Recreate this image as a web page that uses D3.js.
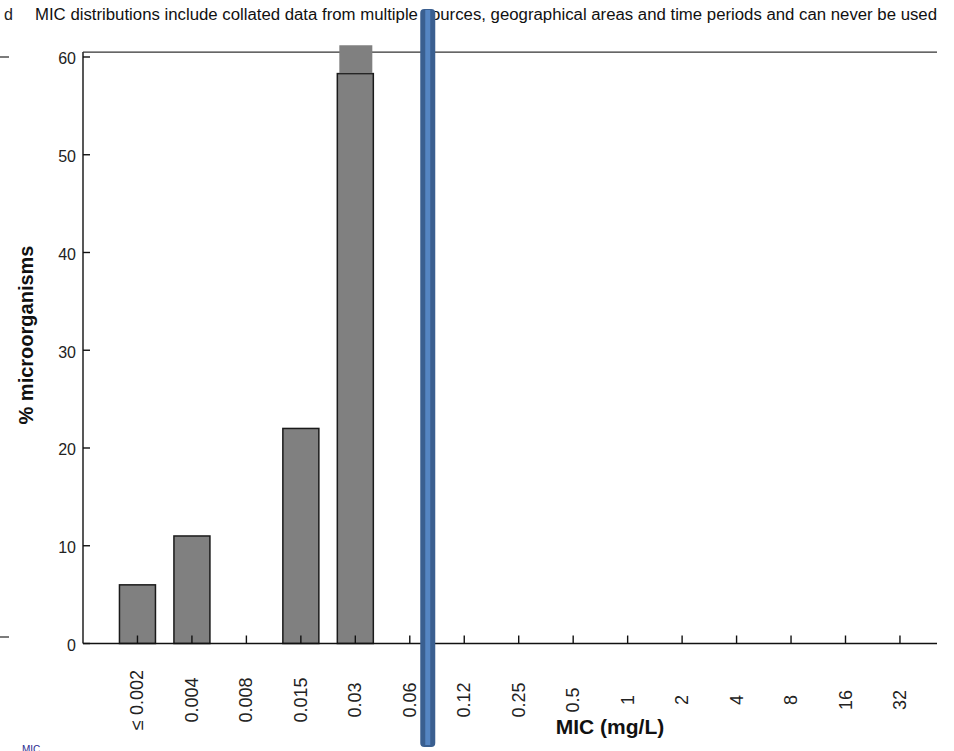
<!DOCTYPE html>
<html>
<head>
<meta charset="utf-8">
<script src="https://cdn.jsdelivr.net/npm/d3@7"></script>
<style>
  html, body { margin: 0; padding: 0; background: #fff; }
  svg { display: block; }
  text { font-family: "Liberation Sans", Arial, sans-serif; }
</style>
</head>
<body>
<svg id="chart" width="954" height="751"></svg>
<script>
// MIC classes (mg/L) and percentage of microorganisms in each class
const micLabels = ["≤ 0.002", "0.004", "0.008", "0.015", "0.03", "0.06", "0.12",
                   "0.25", "0.5", "1", "2", "4", "8", "16", "32"];
const percentValues = [6, 11, 0, 22, 58.3, 0, 0, 0, 0, 0, 0, 0, 0, 0, 0];
// the 0.03 class runs past the top of the frame; its overflow is drawn as a cap
const overflowValues = [0, 0, 0, 0, 61.2, 0, 0, 0, 0, 0, 0, 0, 0, 0, 0];
const yTicks = [0, 10, 20, 30, 40, 50, 60];
const yMax = 60.5;
// epidemiological cut-off marker, in class-index units
const cutoffIndex = 5.33;

const titleText = "MIC distributions include collated data from multiple sources, geographical areas and time periods and can never be used";
const yTitle = "% microorganisms";
const xTitle = "MIC (mg/L)";

const svg = d3.select("#chart");

const plotLeft = 83, plotRight = 937, plotBottom = 643.5;

const x = d3.scaleLinear().domain([-1, 14.68]).range([plotLeft, plotRight]);
const y = d3.scaleLinear().domain([0, yMax]).range([plotBottom, 52.1]);
const plotTop = y(yMax);
const barW = 36;

// clipped fragments at the page edges
svg.append("text").attr("x", 4).attr("y", 20).attr("font-size", 16).attr("fill", "#222").text("d");
svg.append("line").attr("x1", 0).attr("x2", 9).attr("y1", 57).attr("y2", 57).attr("stroke", "#333").attr("stroke-width", 1.3);
svg.append("line").attr("x1", 0).attr("x2", 9).attr("y1", 637).attr("y2", 637).attr("stroke", "#333").attr("stroke-width", 1.3);
svg.append("text").attr("x", 22).attr("y", 753).attr("font-size", 10).attr("fill", "#2a2a90").text("MIC");

// title line
svg.append("text")
  .attr("x", 35).attr("y", 20)
  .attr("font-size", 16)
  .attr("fill", "#111")
  .attr("textLength", 902)
  .attr("lengthAdjust", "spacingAndGlyphs")
  .text(titleText);

// bars
const bars = svg.append("g");
bars.selectAll("rect.bar")
  .data(percentValues.map((v, i) => ({ v, i })).filter(d => d.v > 0))
  .join("rect")
  .attr("class", "bar")
  .attr("x", d => x(d.i) - barW / 2)
  .attr("y", d => y(d.v))
  .attr("width", barW)
  .attr("height", d => y(0) - y(d.v))
  .attr("fill", "#808080")
  .attr("stroke", "#1a1a1a")
  .attr("stroke-width", 1.5);

// axes and frame
const axes = svg.append("g").attr("stroke", "#111").attr("stroke-width", 1.4);
axes.append("line").attr("x1", plotLeft).attr("x2", plotLeft).attr("y1", plotTop).attr("y2", plotBottom);
axes.append("line").attr("x1", plotLeft).attr("x2", plotRight).attr("y1", plotBottom).attr("y2", plotBottom);
axes.append("line").attr("x1", plotLeft).attr("x2", plotRight).attr("y1", plotTop).attr("y2", plotTop).attr("stroke", "#333");

axes.selectAll("line.ytick")
  .data(yTicks)
  .join("line")
  .attr("class", "ytick")
  .attr("x1", plotLeft).attr("x2", plotLeft + 7)
  .attr("y1", d => y(d)).attr("y2", d => y(d));

axes.selectAll("line.xtick")
  .data(micLabels)
  .join("line")
  .attr("class", "xtick")
  .attr("x1", (d, i) => x(i)).attr("x2", (d, i) => x(i))
  .attr("y1", plotBottom).attr("y2", plotBottom - 8);

// y tick labels
svg.selectAll("text.ylab")
  .data(yTicks)
  .join("text")
  .attr("class", "ylab")
  .attr("x", 76)
  .attr("y", d => y(d) + 2)
  .attr("text-anchor", "end")
  .attr("dominant-baseline", "central")
  .attr("font-size", 16)
  .attr("fill", "#222")
  .text(d => d);

// x tick labels, rotated
svg.selectAll("text.xlab")
  .data(micLabels)
  .join("text")
  .attr("class", "xlab")
  .attr("transform", (d, i) => `translate(${x(i)},700) rotate(-90)`)
  .attr("text-anchor", "middle")
  .attr("dominant-baseline", "central")
  .attr("font-size", 18)
  .attr("fill", "#222")
  .text(d => d);

// overflow cap above the frame
svg.selectAll("rect.cap")
  .data(overflowValues.map((v, i) => ({ v, i })).filter(d => d.v > 0))
  .join("rect")
  .attr("class", "cap")
  .attr("x", d => x(d.i) - barW / 2 + 2)
  .attr("y", d => y(d.v))
  .attr("width", barW - 3)
  .attr("height", d => y(percentValues[d.i]) - y(d.v) - 0.5)
  .attr("fill", "#808080");

// axis titles
svg.append("text")
  .attr("transform", `translate(33,335) rotate(-90)`)
  .attr("text-anchor", "middle")
  .attr("font-size", 20)
  .attr("font-weight", "bold")
  .attr("fill", "#111")
  .text(yTitle);

svg.append("text")
  .attr("x", 610).attr("y", 734)
  .attr("text-anchor", "middle")
  .attr("font-size", 21)
  .attr("font-weight", "bold")
  .attr("fill", "#111")
  .text(xTitle);

// cut-off marker
const cx = x(cutoffIndex);
svg.append("rect")
  .attr("x", cx - 7.5).attr("y", 9)
  .attr("width", 15).attr("height", 738)
  .attr("rx", 4)
  .attr("fill", "#3a5f90");
svg.append("rect")
  .attr("x", cx - 2.5).attr("y", 10)
  .attr("width", 5).attr("height", 735)
  .attr("fill", "#5585c2");
</script>
</body>
</html>
